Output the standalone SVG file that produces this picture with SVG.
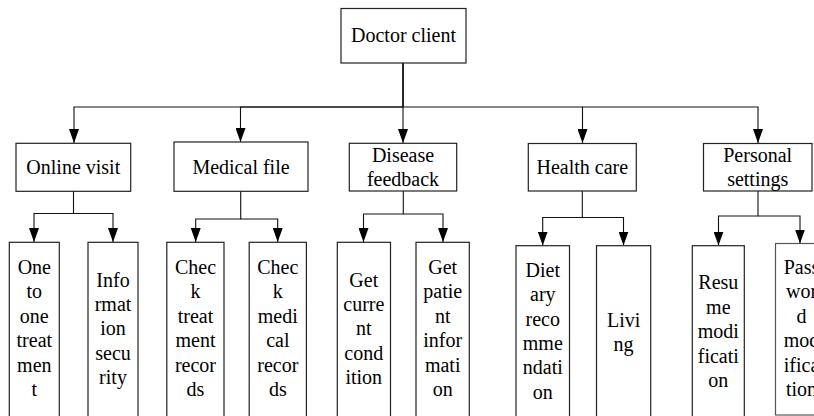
<svg xmlns="http://www.w3.org/2000/svg" width="814" height="416" viewBox="0 0 814 416">
<defs>
<marker id="arr" viewBox="0 0 14 10" refX="14" refY="5" markerWidth="14" markerHeight="10" markerUnits="userSpaceOnUse" orient="auto">
<path d="M0,0 L14,5 L0,10 z" fill="#000"/>
</marker>
<style>
rect{fill:#fff;stroke:#222;stroke-width:1.2}
text{font-size:20px;fill:#000;text-anchor:middle}
.c path{fill:none;stroke:#111;stroke-width:1.1;marker-end:url(#arr)}
</style>
</defs>
<rect x="0" y="0" width="814" height="416" style="fill:#fff;stroke:none"/>
<g class="c" id="connectors">
<path d="M403,63 V107 H74 V143"/>
<path d="M403,63 V107 H240.5 V142"/>
<path d="M403,63 V143"/>
<path d="M403,107 H582.5 V143"/>
<path d="M582.5,107 H758 V143"/>
<path d="M73.5,191 V213.5 H34 V242"/>
<path d="M73.5,213.5 H113 V242"/>
<path d="M240.7,191 V219 H195.7 V242"/>
<path d="M240.7,219 H277.7 V242"/>
<path d="M403.3,191 V214 H363.5 V242"/>
<path d="M403.3,214 H443 V242"/>
<path d="M582.3,191 V217.5 H542.7 V245.5"/>
<path d="M582.3,217.5 H623.5 V245.5"/>
<path d="M758,191 V216 H718.5 V245.5"/>
<path d="M758,216 H800 V243.5"/>
</g>
<g font-family="Liberation Serif, serif">
<g id="doctor-client"><rect x="341" y="8.5" width="125" height="54.5"/><text x="403.5" y="42">Doctor client</text></g>
<g id="online-visit"><rect x="16" y="143.3" width="114.7" height="48"/><text x="73.3" y="174">Online visit</text></g>
<g id="medical-file"><rect x="174" y="142" width="134" height="49.3"/><text x="241" y="173.5">Medical file</text></g>
<g id="disease-feedback"><rect x="349.3" y="143.3" width="107.4" height="47.7"/><text x="403" y="161.7">Disease</text><text x="403" y="186">feedback</text></g>
<g id="health-care"><rect x="528.3" y="143.5" width="108" height="47.5"/><text x="582.3" y="174">Health care</text></g>
<g id="personal-settings"><rect x="703.5" y="143.5" width="108.5" height="47.5"/><text x="757.7" y="161.7">Personal</text><text x="757.7" y="185.5">settings</text></g>
<g id="one-to-one"><rect x="9.3" y="242.3" width="50" height="176"/><text x="34.3" y="274">One</text><text x="34.3" y="298.4">to</text><text x="34.3" y="322.8">one</text><text x="34.3" y="347.2">treat</text><text x="34.3" y="371.6">men</text><text x="34.3" y="396">t</text></g>
<g id="information-security"><rect x="88" y="242.3" width="50" height="176"/><text x="113" y="286.5">Info</text><text x="113" y="310.9">rmat</text><text x="113" y="335.3">ion</text><text x="113" y="359.7">secu</text><text x="113" y="384.1">rity</text></g>
<g id="check-treatment"><rect x="166.8" y="242.3" width="57.2" height="176"/><text x="195.5" y="274">Chec</text><text x="195.5" y="298.4">k</text><text x="195.5" y="322.8">treat</text><text x="195.5" y="347.2">ment</text><text x="195.5" y="371.6">recor</text><text x="195.5" y="396">ds</text></g>
<g id="check-medical"><rect x="249.2" y="242.3" width="57.2" height="176"/><text x="277.8" y="274">Chec</text><text x="277.8" y="298.4">k</text><text x="277.8" y="322.8">medi</text><text x="277.8" y="347.2">cal</text><text x="277.8" y="371.6">recor</text><text x="277.8" y="396">ds</text></g>
<g id="get-current"><rect x="337.3" y="242.3" width="53.2" height="176"/><text x="363.8" y="286.5">Get</text><text x="363.8" y="310.9">curre</text><text x="363.8" y="335.3">nt</text><text x="363.8" y="359.7">cond</text><text x="363.8" y="384.1">ition</text></g>
<g id="get-patient"><rect x="416" y="242.3" width="53.3" height="176"/><text x="442.7" y="274">Get</text><text x="442.7" y="298.4">patie</text><text x="442.7" y="322.8">nt</text><text x="442.7" y="347.2">infor</text><text x="442.7" y="371.6">mati</text><text x="442.7" y="396">on</text></g>
<g id="dietary"><rect x="516" y="245.7" width="53.5" height="176"/><text x="542.8" y="276.7">Diet</text><text x="542.8" y="301.1">ary</text><text x="542.8" y="325.5">reco</text><text x="542.8" y="349.9">mme</text><text x="542.8" y="374.3">ndati</text><text x="542.8" y="398.7">on</text></g>
<g id="living"><rect x="596.5" y="245.7" width="54.2" height="176"/><text x="623.6" y="326.7">Livi</text><text x="623.6" y="351.1">ng</text></g>
<g id="resume"><rect x="692.3" y="245.7" width="52" height="176"/><text x="718.3" y="289.3">Resu</text><text x="718.3" y="313.7">me</text><text x="718.3" y="338.1">modi</text><text x="718.3" y="362.5">ficati</text><text x="718.3" y="386.9">on</text></g>
<g id="password"><rect x="775.5" y="243.5" width="52" height="171.5" style="stroke:#555"/><text x="801.5" y="274">Pass</text><text x="801.5" y="298.4">wor</text><text x="801.5" y="322.8">d</text><text x="801.5" y="347.2">mod</text><text x="801.5" y="371.6">ifica</text><text x="801.5" y="396">tion</text></g>
</g>
</svg>
